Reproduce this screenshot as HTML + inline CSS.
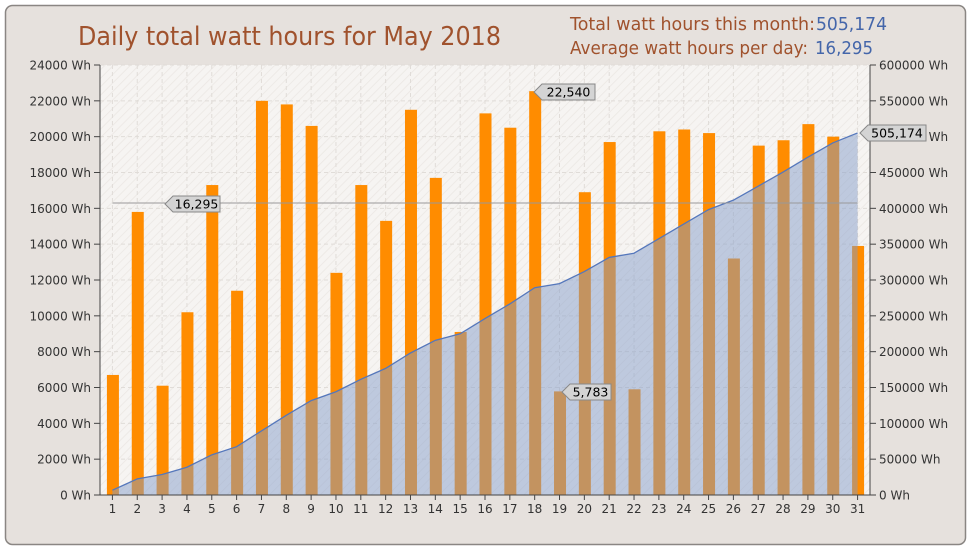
<!DOCTYPE html>
<html><head><meta charset="utf-8"><style>
body{margin:0;background:#fff;width:970px;height:550px;overflow:hidden}
svg{display:block}
text{font-family:"DejaVu Sans","Liberation Sans",sans-serif}
</style></head><body>
<svg id="s" width="970" height="550" xmlns="http://www.w3.org/2000/svg">
<defs>
<pattern id="h" width="6" height="6" patternUnits="userSpaceOnUse" patternTransform="rotate(45)">
<rect width="6" height="6" fill="#f6f4f2"/><line x1="0" y1="0" x2="0" y2="6" stroke="#ebe7e3" stroke-width="1.5"/>
</pattern>
</defs>
<rect x="5.5" y="5.5" width="960" height="539" rx="7" fill="#e6e1dd" stroke="#8a8683" stroke-width="1.5"/>
<rect x="100" y="65" width="770" height="430" fill="url(#h)"/>
<g id="g"></g>
<text x="78" y="45" font-size="26" fill="#a0522d" textLength="423" lengthAdjust="spacingAndGlyphs">Daily total watt hours for May 2018</text>
<text x="570" y="30" font-size="18" fill="#a0522d" textLength="245" lengthAdjust="spacingAndGlyphs">Total watt hours this month:</text>
<text x="816" y="30" font-size="18" fill="#4466aa" textLength="71" lengthAdjust="spacingAndGlyphs">505,174</text>
<text x="570" y="54" font-size="18" fill="#a0522d" textLength="238" lengthAdjust="spacingAndGlyphs">Average watt hours per day:</text>
<text x="815" y="54" font-size="18" fill="#4466aa" textLength="58" lengthAdjust="spacingAndGlyphs">16,295</text>
</svg>
<script>
var v=[6700,15800,6100,10200,17300,11400,22000,21800,20600,12400,17300,15300,21500,17700,9100,21300,20500,22540,5783,16900,19700,5900,20300,20400,20200,13200,19500,19800,20700,20000,13900];
var g='',L=100,R=870,T=65,B=495,H=430,dx=(R-L)/31;
function cx(i){return L+dx*(i+0.5)}
function yl(x){return B-x/24000*H}
function yr(x){return B-x/600000*H}
for(var i=0;i<31;i++)g+='<line x1="'+cx(i)+'" y1="'+T+'" x2="'+cx(i)+'" y2="'+B+'" stroke="#e0dcd8" stroke-dasharray="4,3"/>';
for(var k=0;k<=12;k++){var y=B-k*H/12;
g+='<line x1="'+L+'" y1="'+y+'" x2="'+R+'" y2="'+y+'" stroke="#e0dcd8" stroke-dasharray="4,3"/>';
g+='<line x1="'+(L-6)+'" y1="'+y+'" x2="'+L+'" y2="'+y+'" stroke="#444"/>';
g+='<line x1="'+R+'" y1="'+y+'" x2="'+(R+6)+'" y2="'+y+'" stroke="#444"/>';
g+='<text x="'+(L-9)+'" y="'+(y+4.5)+'" font-size="12" fill="#333" text-anchor="end">'+(k*2000)+' Wh</text>';
g+='<text x="'+(R+9)+'" y="'+(y+4.5)+'" font-size="12" fill="#333">'+(k*50000)+' Wh</text>';}
var c=0,pts=[],cy=[];for(var i=0;i<31;i++){c+=v[i];var yy=yr(c*505174/505823);cy.push(yy);pts.push(cx(i)+','+yy);}
for(var i=0;i<31;i++){var h=v[i]/24000*H;g+='<rect x="'+(cx(i)-5.5)+'" y="'+(B-h)+'" width="12" height="'+h+'" fill="#ff8c00"/>';}
g+='<polygon points="'+cx(0)+','+B+' '+pts.join(' ')+' '+cx(30)+','+B+'" fill="rgba(130,155,200,0.48)"/>';
for(var i=0;i<31;i++){var top=Math.max(B-v[i]/24000*H,cy[i]);g+='<rect x="'+(cx(i)-5.5)+'" y="'+top+'" width="12" height="'+(B-top)+'" fill="#c8802e"/>';}
g+='<polyline points="'+pts.join(' ')+'" fill="none" stroke="#5577bb" stroke-width="1.3"/>';
var ya=yl(16295);g+='<line x1="'+cx(0)+'" y1="'+ya+'" x2="'+cx(30)+'" y2="'+ya+'" stroke="#999"/>';
g+='<line x1="'+L+'" y1="'+T+'" x2="'+L+'" y2="'+B+'" stroke="#444"/><line x1="'+R+'" y1="'+T+'" x2="'+R+'" y2="'+B+'" stroke="#444"/>';
g+='<line x1="'+L+'" y1="'+B+'" x2="'+R+'" y2="'+B+'" stroke="#444"/>';
for(var i=0;i<31;i++){g+='<line x1="'+cx(i)+'" y1="'+B+'" x2="'+cx(i)+'" y2="'+(B+5)+'" stroke="#444"/><text x="'+cx(i)+'" y="'+(B+18)+'" font-size="12" fill="#333" text-anchor="middle">'+(i+1)+'</text>';}
function call(x,y,w,t){return '<polygon points="'+x+','+y+' '+(x+8)+','+(y-8)+' '+(x+w)+','+(y-8)+' '+(x+w)+','+(y+8)+' '+(x+8)+','+(y+8)+'" fill="#d4d4d4" stroke="#888"/><text x="'+(x+w/2+4)+'" y="'+(y+4.5)+'" font-size="12.5" fill="#000" text-anchor="middle">'+t+'</text>';}
g+=call(165,204,55,'16,295');g+=call(534,92,61,'22,540');g+=call(562,392,49,'5,783');g+=call(860,133,66,'505,174');
document.getElementById('g').innerHTML=g;
</script>
</body></html>
